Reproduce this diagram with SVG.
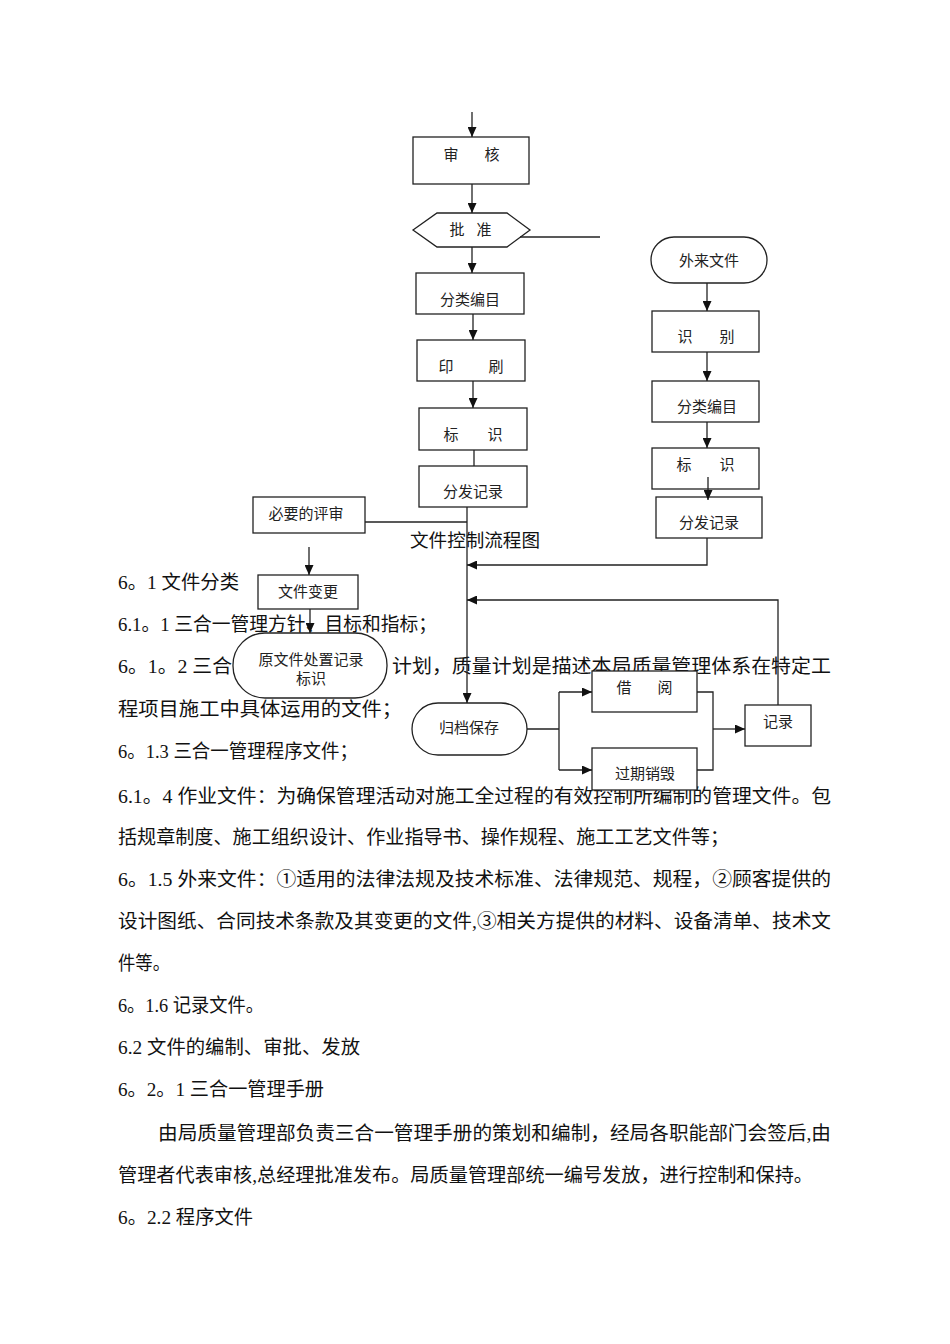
<svg xmlns="http://www.w3.org/2000/svg" width="950" height="1344" viewBox="0 0 950 1344">
<style>
.body{font-family:"Liberation Serif","Noto Sans CJK SC",serif;font-size:19px;fill:#111}
.title{font-family:"Noto Sans CJK SC","Liberation Sans",sans-serif;font-size:18px;fill:#111}
.lbl{font-family:"Noto Sans CJK SC","Liberation Sans",sans-serif;font-size:15px;fill:#222;text-anchor:middle}
.box{fill:#fff;stroke:#222;stroke-width:1.3}
.con{fill:none;stroke:#222;stroke-width:1.3}
</style>
<defs>
<marker id="ah" markerUnits="userSpaceOnUse" markerWidth="10" markerHeight="9" refX="10" refY="4.5" orient="auto">
<path d="M0,0 L10,4.5 L0,9 z" fill="#111"/>
</marker>
</defs>
<rect width="950" height="1344" fill="#fff"/>

<g id="body-text">
<text class="body" x="118" y="589" textLength="121" lengthAdjust="spacingAndGlyphs">6。1 文件分类</text>
<text class="body" x="118" y="631" textLength="319" lengthAdjust="spacingAndGlyphs">6.1。1 三合一管理方针、目标和指标；</text>
<text class="body" x="118" y="673" textLength="114" lengthAdjust="spacingAndGlyphs">6。1。2 三合</text>
<text class="body" x="392" y="673" textLength="439" lengthAdjust="spacingAndGlyphs">计划，质量计划是描述本局质量管理体系在特定工</text>
<text class="body" x="118" y="716" textLength="284" lengthAdjust="spacingAndGlyphs">程项目施工中具体运用的文件；</text>
<text class="body" x="118" y="758" textLength="240" lengthAdjust="spacingAndGlyphs">6。1.3 三合一管理程序文件；</text>
<text class="body" x="118" y="803" textLength="713" lengthAdjust="spacingAndGlyphs">6.1。4 作业文件：为确保管理活动对施工全过程的有效控制所编制的管理文件。包</text>
<text class="body" x="118" y="844" textLength="611" lengthAdjust="spacingAndGlyphs">括规章制度、施工组织设计、作业指导书、操作规程、施工工艺文件等；</text>
<text class="body" x="118" y="886" textLength="713" lengthAdjust="spacingAndGlyphs">6。1.5 外来文件：①适用的法律法规及技术标准、法律规范、规程，②顾客提供的</text>
<text class="body" x="118" y="928" textLength="713" lengthAdjust="spacingAndGlyphs">设计图纸、合同技术条款及其变更的文件,③相关方提供的材料、设备清单、技术文</text>
<text class="body" x="118" y="970" textLength="52" lengthAdjust="spacingAndGlyphs">件等。</text>
<text class="body" x="118" y="1012" textLength="146" lengthAdjust="spacingAndGlyphs">6。1.6 记录文件。</text>
<text class="body" x="118" y="1054" textLength="242" lengthAdjust="spacingAndGlyphs">6.2 文件的编制、审批、发放</text>
<text class="body" x="118" y="1096" textLength="206" lengthAdjust="spacingAndGlyphs">6。2。1 三合一管理手册</text>
<text class="body" x="158" y="1140" textLength="673" lengthAdjust="spacingAndGlyphs">由局质量管理部负责三合一管理手册的策划和编制，经局各职能部门会签后,由</text>
<text class="body" x="118" y="1182" textLength="695" lengthAdjust="spacingAndGlyphs">管理者代表审核,总经理批准发布。局质量管理部统一编号发放，进行控制和保持。</text>
<text class="body" x="118" y="1224" textLength="135" lengthAdjust="spacingAndGlyphs">6。2.2 程序文件</text>
</g>

<text class="title" x="410" y="547" textLength="130" lengthAdjust="spacingAndGlyphs">文件控制流程图</text>

<g id="n-shenhe"><rect class="box" x="413" y="137" width="116" height="47"/><text class="lbl" x="451" y="160">审</text><text class="lbl" x="492" y="160">核</text></g>
<g id="n-pizhun"><polygon class="box" points="413,230 437,213 507,213 530,230 507,247 437,247"/><text class="lbl" x="457" y="235">批</text><text class="lbl" x="484" y="235">准</text></g>
<g id="n-fenlei1"><rect class="box" x="416" y="273" width="108" height="41"/><text class="lbl" x="470" y="305">分类编目</text></g>
<g id="n-yinshua"><rect class="box" x="417" y="340" width="108" height="41"/><text class="lbl" x="446" y="372">印</text><text class="lbl" x="496" y="372">刷</text></g>
<g id="n-biaoshi1"><rect class="box" x="419" y="408" width="108" height="42"/><text class="lbl" x="451" y="440">标</text><text class="lbl" x="495" y="440">识</text></g>
<g id="n-fafa1"><rect class="box" x="419" y="466" width="108" height="41"/><text class="lbl" x="473" y="497">分发记录</text></g>
<g id="n-wailai"><rect class="box" x="651" y="237" width="116" height="46" rx="23"/><text class="lbl" x="709" y="266">外来文件</text></g>
<g id="n-shibie"><rect class="box" x="652" y="311" width="107" height="41"/><text class="lbl" x="685" y="342">识</text><text class="lbl" x="727" y="342">别</text></g>
<g id="n-fenlei2"><rect class="box" x="652" y="381" width="107" height="41"/><text class="lbl" x="707" y="412">分类编目</text></g>
<g id="n-biaoshi2"><rect class="box" x="652" y="448" width="107" height="41"/><text class="lbl" x="684" y="470">标</text><text class="lbl" x="727" y="470">识</text></g>
<g id="n-fafa2"><rect class="box" x="656" y="497" width="106" height="41"/><text class="lbl" x="709" y="528">分发记录</text></g>
<g id="n-pingshen"><rect class="box" x="253" y="497" width="112" height="36"/><text class="lbl" x="306" y="519">必要的评审</text></g>
<g id="n-biangeng"><rect class="box" x="258" y="575" width="100" height="34"/><text class="lbl" x="308" y="597">文件变更</text></g>
<g id="n-yuanwenjian"><rect class="box" x="233" y="633" width="154" height="65" rx="32"/><text class="lbl" x="311" y="665">原文件处置记录</text><text class="lbl" x="311" y="684">标识</text></g>
<g id="n-guidang"><rect class="box" x="412" y="703" width="115" height="52" rx="26"/><text class="lbl" x="469" y="733">归档保存</text></g>
<g id="n-jieyue"><rect class="box" x="592" y="671" width="105" height="41"/><text class="lbl" x="624" y="693">借</text><text class="lbl" x="665" y="693">阅</text></g>
<g id="n-xiaohui"><rect class="box" x="592" y="748" width="105" height="42"/><text class="lbl" x="645" y="779">过期销毁</text></g>
<g id="n-jilu"><rect class="box" x="745" y="705" width="66" height="41"/><text class="lbl" x="778" y="727">记录</text></g>

<g id="connectors">
<path class="con" d="M472,112 V137" marker-end="url(#ah)"/>
<path class="con" d="M472,184 V213" marker-end="url(#ah)"/>
<path class="con" d="M520,237 H600"/>
<path class="con" d="M472,247 V273" marker-end="url(#ah)"/>
<path class="con" d="M473,314 V340" marker-end="url(#ah)"/>
<path class="con" d="M473,381 V408" marker-end="url(#ah)"/>
<path class="con" d="M474,450 V466"/>
<path class="con" d="M467,507 V703" marker-end="url(#ah)"/>
<path class="con" d="M365,522 H467"/>
<path class="con" d="M309,547 V575" marker-end="url(#ah)"/>
<path class="con" d="M310,609 V633" marker-end="url(#ah)"/>
<path class="con" d="M707,283 V311" marker-end="url(#ah)"/>
<path class="con" d="M707,352 V381" marker-end="url(#ah)"/>
<path class="con" d="M707,422 V448" marker-end="url(#ah)"/>
<path class="con" d="M708,477 V500" marker-end="url(#ah)"/>
<path class="con" d="M707,538 V565 H467" marker-end="url(#ah)"/>
<path class="con" d="M778,705 V600 H467" marker-end="url(#ah)"/>
<path class="con" d="M527,729 H559 M559,692 V770"/>
<path class="con" d="M559,692 H592" marker-end="url(#ah)"/>
<path class="con" d="M559,770 H592" marker-end="url(#ah)"/>
<path class="con" d="M697,692 H713 V770 H697"/>
<path class="con" d="M713,729 H745" marker-end="url(#ah)"/>
</g>
</svg>
